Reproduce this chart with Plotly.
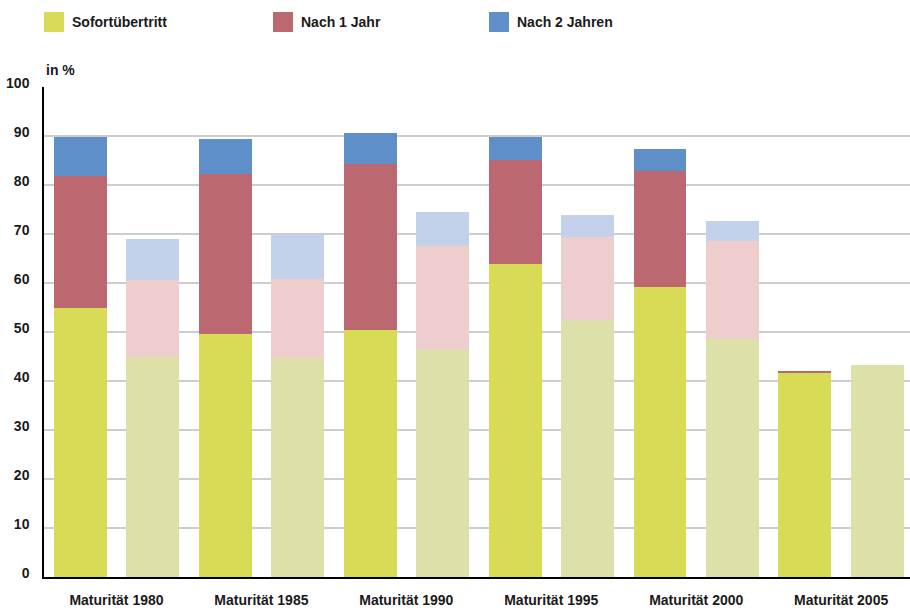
import plotly.graph_objects as go

years = ["Maturität 1980", "Maturität 1985", "Maturität 1990",
         "Maturität 1995", "Maturität 2000", "Maturität 2005"]
series_names = ["Sofortübertritt", "Nach 1 Jahr", "Nach 2 Jahren"]

# dark bars (first of each pair)
sofort_a = [54.9, 49.6, 50.4, 63.9, 59.2, 41.7]
nach1_a = [26.9, 32.6, 33.9, 21.3, 23.7, 0.3]
nach2_a = [8.0, 7.2, 6.3, 4.6, 4.4, 0.0]
# light bars (second of each pair)
sofort_b = [44.8, 44.7, 46.3, 52.4, 48.5, 43.3]
nach1_b = [15.8, 16.1, 21.3, 16.9, 20.1, 0.0]
nach2_b = [8.4, 9.2, 6.9, 4.6, 4.1, 0.0]

y_ticks = [0, 10, 20, 30, 40, 50, 60, 70, 80, 90, 100]

dark_colors = ["#D8DB55", "#BC6870", "#5E8FC8"]
light_colors = ["#DEE0AA", "#EECECD", "#C3D1EA"]

FONT = "Liberation Sans"
TXT = "#1a1a1a"

xa = [2 * i for i in range(len(years))]
xb = [2 * i + 1 for i in range(len(years))]
centers = [2 * i + 0.5 for i in range(len(years))]

fig = go.Figure()
for vals, col, name in zip([sofort_a, nach1_a, nach2_a], dark_colors, series_names):
    fig.add_trace(go.Bar(x=xa, y=vals, width=0.73, marker=dict(color=col, line=dict(width=0)),
                         name=name, showlegend=False))
for vals, col, name in zip([sofort_b, nach1_b, nach2_b], light_colors, series_names):
    fig.add_trace(go.Bar(x=xb, y=vals, width=0.73, marker=dict(color=col, line=dict(width=0)),
                         name=name, showlegend=False))

W, H = 910, 608
ml, mr, mt, mb = 44, 0, 87, 31
pw = W - ml - mr
ph = H - mt - mb

def px_x(p):
    return (p - ml) / pw

def px_y(p):
    return (H - mb - p) / ph

shapes = []
annotations = []
legend_x = [44, 273, 489]
for lx, col, name in zip(legend_x, dark_colors, series_names):
    shapes.append(dict(type="rect", xref="paper", yref="paper",
                       x0=px_x(lx), x1=px_x(lx + 20), y0=px_y(32), y1=px_y(12),
                       fillcolor=col, line=dict(width=0)))
    annotations.append(dict(xref="paper", yref="paper", x=px_x(lx + 26), y=px_y(22),
                            text="<b>%s</b>" % name, showarrow=False, xanchor="left",
                            yanchor="middle", font=dict(family=FONT, size=14, color=TXT)))
annotations.append(dict(xref="paper", yref="paper", x=px_x(44), y=px_y(70),
                        text="<b>in %</b>", showarrow=False, xanchor="left", yanchor="middle",
                        font=dict(family=FONT, size=14, color=TXT)))

fig.update_layout(
    width=W, height=H,
    margin=dict(l=ml, r=mr, t=mt, b=mb, pad=0),
    barmode="stack",
    paper_bgcolor="white", plot_bgcolor="white",
    shapes=shapes, annotations=annotations,
    showlegend=False,
    font=dict(family=FONT, size=14, color=TXT),
)
fig.update_xaxes(range=[-0.5, 11.45], tickmode="array", tickvals=centers,
                 ticktext=["<b>%s</b>" % y for y in years], ticks="",
                 showgrid=False, zeroline=False, showline=True, linecolor="black",
                 linewidth=2, ticklabelstandoff=9,
                 tickfont=dict(family=FONT, size=14, color=TXT))
fig.update_yaxes(range=[0, 100], tickmode="array", tickvals=y_ticks,
                 ticktext=["<b>%d</b>" % v for v in y_ticks], ticks="",
                 showgrid=True, gridcolor="#cdcdcd", gridwidth=2, zeroline=False,
                 showline=True, linecolor="black", linewidth=1.5, ticklabelstandoff=10,
                 ticklabelshift=-4,
                 tickfont=dict(family=FONT, size=14, color=TXT))

fig.write_html("out.html")
